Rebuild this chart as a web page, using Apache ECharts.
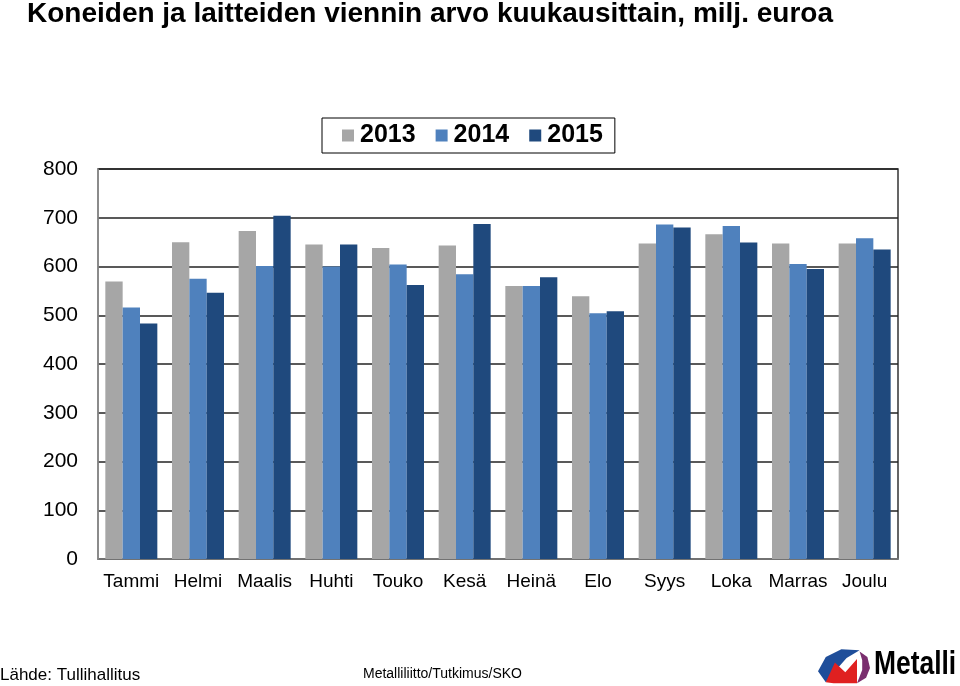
<!DOCTYPE html>
<html>
<head>
<meta charset="utf-8">
<script src="https://cdn.jsdelivr.net/npm/echarts@6/dist/echarts.min.js"></script>
<style>
html,body{margin:0;padding:0;background:#fff;}
#c{width:960px;height:686px;}
</style>
</head>
<body>
<div id="c"></div>
<script>
const categories = ['Tammi','Helmi','Maalis','Huhti','Touko','Kesä','Heinä','Elo','Syys','Loka','Marras','Joulu'];
const s2013 = [569, 650, 673, 645, 638, 643, 560, 539, 647, 666, 647, 647];
const s2014 = [516, 575, 601, 600, 604, 584, 560, 504, 686, 683, 605, 658];
const s2015 = [483, 546, 704, 645, 562, 687, 578, 508, 680, 649, 595, 635];
const yTicks = [0, 100, 200, 300, 400, 500, 600, 700, 800];

const chart = echarts.init(document.getElementById('c'), null, {renderer: 'canvas'});
const font = 'Liberation Sans, Arial, sans-serif';
const barBase = {type: 'bar', barGap: '0%', barCategoryGap: '22%'};
chart.setOption({
  animation: false,
  backgroundColor: '#fff',
  title: {
    text: 'Koneiden ja laitteiden viennin arvo kuukausittain, milj. euroa',
    left: 22, top: -5,
    textStyle: {fontFamily: font, fontSize: 28, fontWeight: 'bold', color: '#000'}
  },
  legend: {
    data: ['2013', '2014', '2015'],
    left: 322, top: 118,
    itemWidth: 12, itemHeight: 12, itemGap: 20,
    icon: 'rect',
    borderColor: '#000', borderWidth: 1,
    padding: [5, 12, 5, 20],
    textStyle: {fontFamily: font, fontSize: 25, fontWeight: 'bold', color: '#000', padding: [0, 0, 0, 1]}
  },
  grid: {
    left: 98, right: 62, top: 169, bottom: 127,
    show: true, borderColor: '#333', borderWidth: 1.5, backgroundColor: 'transparent'
  },
  xAxis: {
    type: 'category', data: categories,
    axisLine: {lineStyle: {color: '#888', width: 1.5}},
    axisTick: {show: false},
    axisLabel: {fontFamily: font, fontSize: 19, color: '#000', margin: 13, interval: 0}
  },
  yAxis: {
    type: 'value', min: yTicks[0], max: yTicks[yTicks.length - 1], interval: 100,
    axisLine: {show: true, lineStyle: {color: '#999', width: 1.5}},
    axisTick: {show: false},
    axisLabel: {fontFamily: font, fontSize: 21, color: '#000', margin: 20},
    splitLine: {lineStyle: {color: '#222', width: 1.5}}
  },
  series: [
    Object.assign({}, barBase, {name: '2013', data: s2013, itemStyle: {color: '#A6A6A6'}}),
    Object.assign({}, barBase, {name: '2014', data: s2014, itemStyle: {color: '#4F81BD'}}),
    Object.assign({}, barBase, {name: '2015', data: s2015, itemStyle: {color: '#1F497D'}})
  ],
  graphic: [
    {type: 'text', left: 0, top: 667, style: {text: 'Lähde: Tullihallitus', font: '17px ' + font, fill: '#000'}},
    {type: 'text', left: 363, top: 667, style: {text: 'Metalliliitto/Tutkimus/SKO', font: '14px ' + font, fill: '#000'}},
    {type: 'group', x: 818, y: 647, scaleX: 1.3, scaleY: 1.1, children: [
      {type: 'polygon', shape: {points: [[0, 22], [6, 9], [18, 2], [32, 3], [22, 10], [13, 22], [6, 32]]}, style: {fill: '#1F4E9A'}},
      {type: 'polygon', shape: {points: [[6, 32], [13, 14], [21, 23], [30, 11], [30, 33], [12, 33]]}, style: {fill: '#E02020'}},
      {type: 'polygon', shape: {points: [[32, 4], [38, 9], [40, 19], [37, 28], [30, 33], [34, 21], [34, 12]]}, style: {fill: '#7A2E6E'}}
    ]},
    {type: 'group', x: 874, y: 648, scaleX: 0.8, scaleY: 1, children: [
      {type: 'text', x: 0, y: 0, style: {text: 'Metalli', font: 'bold 33px ' + font, fill: '#000'}}
    ]}
  ]
});
</script>
</body>
</html>
